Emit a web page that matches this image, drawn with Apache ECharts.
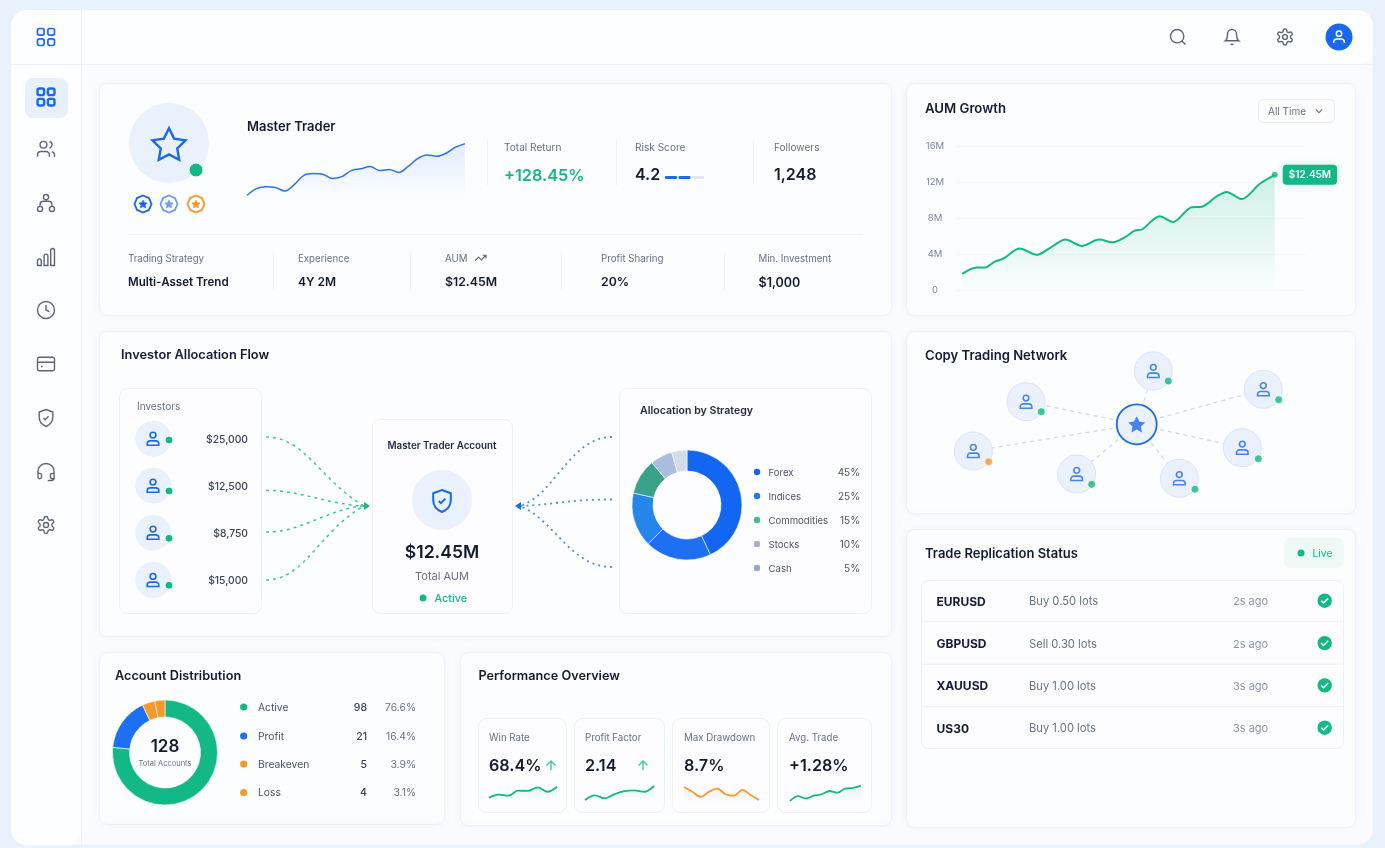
<!DOCTYPE html>
<html>
<head>
<meta charset="utf-8">
<title>Master Trader Dashboard</title>
<style>
  html, body { margin: 0; padding: 0; background: #e9f1fc; }
  #main { width: 1385px; height: 848px; }
</style>
</head>
<body>
<div id="main"></div>
<script src="https://cdn.jsdelivr.net/npm/echarts@6/dist/echarts.min.js"></script>
<script>
// values
var masterSpark = [8, 19, 22, 21, 15, 26, 41, 44, 43, 36, 39, 49, 52, 56, 49, 51, 46, 56, 69, 75, 73, 78, 88, 94];

var aumMonths = [0, 2.3, 3.6, 5.2, 6.6, 9.2, 11.9, 14.3, 16.5, 19.1, 21.9, 24.1, 26, 27.6, 28.8, 31.6, 33.7, 36.7, 38.3, 40.7, 42.3, 44.7, 47.6, 50];
var aumValues = [1.8, 2.5, 2.5, 3.15, 3.5, 4.6, 3.9, 4.8, 5.6, 4.9, 5.6, 5.3, 5.85, 6.6, 6.75, 8.2, 7.55, 9.2, 9.25, 10.4, 10.9, 10.1, 11.8, 12.8];
var aumLabel = '$12.45M';

var allocSliceNames = ['Forex', 'Indices', 'Other', 'Commodities', 'Stocks', 'Cash'];
var allocSliceValues = [43, 19.5, 16, 10.5, 6.5, 4.5];
var allocNames = ['Forex', 'Indices', 'Commodities', 'Stocks', 'Cash'];
var allocPcts = ['45%', '25%', '15%', '10%', '5%'];

var accountNames = ['Active', 'Profit', 'Breakeven', 'Loss'];
var accountCounts = [98, 21, 5, 4];
var accountPcts = ['76.6%', '16.4%', '3.9%', '3.1%'];

var investorAmounts = ['$25,000', '$12,500', '$8,750', '$15,000'];

var netNodesX = [230.7, 247.3, 357.3, 336.3, 273.3, 170.7, 67.3, 120];
var netNodesY = [93.3, 40, 58.3, 116.7, 147.3, 143, 120, 70.7];
var netStatusX = [262.3, 372.7, 352.3, 289, 185.7, 82.7, 135.3];
var netStatusY = [50, 68.7, 127.7, 158.3, 153.3, 130.7, 80.7];
var netStatus = ['on', 'on', 'on', 'on', 'on', 'warn', 'on'];

var kpiNames = ['Win Rate', 'Profit Factor', 'Max Drawdown', 'Avg. Trade'];
var kpiValues = ['68.4%', '2.14', '8.7%', '+1.28%'];
var kpiSparkWin = [24, 41, 35, 63, 62, 81, 57, 85];
var kpiSparkFactor = [11, 37, 20, 44, 61, 65, 57, 89];
var kpiSparkDrawdown = [83, 57, 28, 57, 74, 43, 35, 67, 39, 11];
var kpiSparkAvg = [6, 33, 20, 35, 43, 61, 52, 74, 78, 91];

var tradeSymbols = ['EURUSD', 'GBPUSD', 'XAUUSD', 'US30'];
var tradeOrders = ['Buy 0.50 lots', 'Sell 0.30 lots', 'Buy 1.00 lots', 'Buy 1.00 lots'];
var tradeTimes = ['2s ago', '2s ago', '3s ago', '3s ago'];

var aumTicks = [0, 4, 8, 12, 16];

// colours
var BLUE = '#1a68f0', GREEN = '#12b886', ORANGE = '#f7982c';
var INK = '#131b34', TEXT = '#4a5469', MUTED = '#667085', SOFT = '#8c95a8';
var LINE = '#edf0f6', PALE = '#e9f1fc';
var FONT = 'Inter, "Noto Sans", sans-serif';

// icon paths, 24x24
var P = {
  grid: 'M5 3h3a2 2 0 0 1 2 2v3a2 2 0 0 1-2 2H5a2 2 0 0 1-2-2V5a2 2 0 0 1 2-2z M16 3h3a2 2 0 0 1 2 2v3a2 2 0 0 1-2 2h-3a2 2 0 0 1-2-2V5a2 2 0 0 1 2-2z M5 14h3a2 2 0 0 1 2 2v3a2 2 0 0 1-2 2H5a2 2 0 0 1-2-2v-3a2 2 0 0 1 2-2z M16 14h3a2 2 0 0 1 2 2v3a2 2 0 0 1-2 2h-3a2 2 0 0 1-2-2v-3a2 2 0 0 1 2-2z',
  users: 'M16 21v-2a4 4 0 0 0-4-4H6a4 4 0 0 0-4 4v2 M9 3a4 4 0 1 0 0 8 4 4 0 0 0 0-8z M22 21v-2a4 4 0 0 0-3-3.87 M16 3.13a4 4 0 0 1 0 7.75',
  network: 'M9 5a3 3 0 1 0 6 0 3 3 0 1 0-6 0z M2 19a3 3 0 1 0 6 0 3 3 0 1 0-6 0z M16 19a3 3 0 1 0 6 0 3 3 0 1 0-6 0z M5 16v-2a4 4 0 0 1 4-4h6a4 4 0 0 1 4 4v2 M12 8v2',
  bars: 'M3 16a2 2 0 0 1 4 0v5H3z M10 11a2 2 0 0 1 4 0v10h-4z M17 5a2 2 0 0 1 4 0v16h-4z',
  clock: 'M12 2a10 10 0 1 0 0 20 10 10 0 0 0 0-20z M12 6v6l4 2',
  card: 'M4 4h16a2 2 0 0 1 2 2v12a2 2 0 0 1-2 2H4a2 2 0 0 1-2-2V6a2 2 0 0 1 2-2z M2 10h20 M6 15h2',
  shield: 'M12 2l8 3v6c0 5-3.5 9-8 11-4.5-2-8-6-8-11V5l8-3z M9 12l2 2 4-4',
  headset: 'M3 14v-2a9 9 0 0 1 18 0v2 M3 14h2a2 2 0 0 1 2 2v2a2 2 0 0 1-2 2H5a2 2 0 0 1-2-2z M21 14h-2a2 2 0 0 0-2 2v2a2 2 0 0 0 2 2h2z M21 18v1a3 3 0 0 1-3 3h-4',
  gear: 'M12.22 2h-.44a2 2 0 0 0-2 2v.18a2 2 0 0 1-1 1.73l-.43.25a2 2 0 0 1-2 0l-.15-.08a2 2 0 0 0-2.73.73l-.22.38a2 2 0 0 0 .73 2.73l.15.1a2 2 0 0 1 1 1.72v.51a2 2 0 0 1-1 1.74l-.15.09a2 2 0 0 0-.73 2.73l.22.38a2 2 0 0 0 2.73.73l.15-.08a2 2 0 0 1 2 0l.43.25a2 2 0 0 1 1 1.73V20a2 2 0 0 0 2 2h.44a2 2 0 0 0 2-2v-.18a2 2 0 0 1 1-1.73l.43-.25a2 2 0 0 1 2 0l.15.08a2 2 0 0 0 2.73-.73l.22-.39a2 2 0 0 0-.73-2.73l-.15-.08a2 2 0 0 1-1-1.74v-.5a2 2 0 0 1 1-1.74l.15-.09a2 2 0 0 0 .73-2.73l-.22-.38a2 2 0 0 0-2.73-.73l-.15.08a2 2 0 0 1-2 0l-.43-.25a2 2 0 0 1-1-1.73V4a2 2 0 0 0-2-2z M15 12a3 3 0 1 1-6 0 3 3 0 0 1 6 0z',
  search: 'M11 3a8 8 0 1 0 0 16 8 8 0 0 0 0-16z M21 21l-4.3-4.3',
  bell: 'M6 8a6 6 0 0 1 12 0c0 7 3 9 3 9H3s3-2 3-9 M10.3 21a1.94 1.94 0 0 0 3.4 0',
  person: 'M12 3a4 4 0 1 0 0 8 4 4 0 0 0 0-8z M4 21v-2a4 4 0 0 1 4-4h8a4 4 0 0 1 4 4v2z',
  personOpen: 'M12 3a4 4 0 1 0 0 8 4 4 0 0 0 0-8z M4 21v-1a5 5 0 0 1 5-5h6a5 5 0 0 1 5 5v1',
  star: 'M12 2l3.09 6.26L22 9.27l-5 4.87 1.18 6.88L12 17.77l-6.18 3.25L7 14.14 2 9.27l6.91-1.01L12 2z',
  trend: 'M22 7l-8.5 8.5-5-5L2 17 M16 7h6v6',
  chevron: 'M6 9l6 6 6-6',
  up: 'M12 19V5 M5 12l7-7 7 7',
  check: 'M6 12l4 4 8-8',
  badge: 'M12 2l7 3 3 7-3 7-7 3-7-3-3-7 3-7z'
};

var gfx = [];
var icons = [];

function box(x, y, w, h, r, fill, stroke, shadow) {
  gfx.push({
    type: 'rect', z: 0,
    shape: { x: x, y: y, width: w, height: h, r: r },
    style: {
      fill: fill, stroke: stroke || null, lineWidth: 1,
      shadowBlur: shadow ? 8 : 0, shadowColor: 'rgba(40,70,130,0.05)'
    }
  });
}
function card(x, y, w, h) { box(x + 0.5, y + 0.5, w, h, 8, '#fcfdff', LINE, true); }
function inner(x, y, w, h, r) { box(x + 0.5, y + 0.5, w, h, r || 8, '#fdfdff', '#edf0f6'); }
function txt(s, x, y, size, color, weight, align) {
  gfx.push({
    type: 'text', z: 3,
    style: {
      text: s, x: x, y: y + 0.8, fill: color, align: align || 'left', verticalAlign: 'middle',
      fontFamily: FONT, fontSize: size, fontWeight: weight || 400
    }
  });
}
function dot(x, y, r, fill, ring) {
  gfx.push({
    type: 'circle', z: 2,
    shape: { cx: x, cy: y, r: r },
    style: { fill: fill, stroke: ring ? '#fff' : null, lineWidth: ring ? 1 : 0 }
  });
}
function rule(x1, y1, x2, y2, color) {
  gfx.push({
    type: 'line', z: 1,
    shape: { x1: x1, y1: y1, x2: x2, y2: y2 },
    style: { stroke: color || '#eef1f7', lineWidth: 1 }
  });
}
function flow(pts, color, dash, width) {
  gfx.push({
    type: 'bezierCurve', z: 1,
    shape: { x1: pts[0], y1: pts[1], cpx1: pts[2], cpy1: pts[3], cpx2: pts[4], cpy2: pts[5], x2: pts[6], y2: pts[7] },
    style: { stroke: color, fill: null, lineWidth: width, lineDash: dash }
  });
}
function tip(points, color) {
  gfx.push({ type: 'polygon', z: 2, shape: { points: points }, style: { fill: color } });
}
function icon(name, x, y, size, color, width, filled) {
  icons.push({ path: P[name], x: x, y: y, size: size, color: color, width: width || 1.5, filled: filled });
}

// page shell
box(11, 10, 1362, 835, 16, '#f9fbfe');
box(11, 10, 70, 835, 16, '#fdfeff');
box(11, 10, 1362, 54, 16, '#fdfeff');
rule(81.5, 10, 81.5, 845, '#eef1f7');
rule(11, 64.5, 1373, 64.5, '#eef1f7');

// sidebar and top bar
icon('grid', 46, 37, 17, BLUE, 1.7);
box(25, 78, 43, 40, 8, '#e8f0fb');
icon('grid', 46, 97, 17, BLUE, 2.4);
var navNames = ['users', 'network', 'bars', 'clock', 'card', 'shield', 'headset', 'gear'];
var navY = [149, 203, 257, 310, 364, 418, 472, 525];
navNames.forEach(function (n, i) { icon(n, 46, navY[i], 17, '#5b6478', 1.4); });
icon('search', 1178, 37, 15, '#5b6478', 1.4);
icon('bell', 1232, 37, 15, '#5b6478', 1.4);
icon('gear', 1285, 37, 16, '#5b6478', 1.4);
dot(1339, 37, 13.5, BLUE);
icon('personOpen', 1339, 37, 12, '#fff', 1.5);

// cards
card(99, 83, 792, 232);
card(906, 83, 449, 232);
card(99, 331, 792, 305);
card(906, 331, 449, 182);
card(906, 529, 449, 298);
card(99, 652, 345, 172);
card(460, 652, 431, 173);

// master trader card
dot(169, 143, 40, PALE);
icon('star', 169, 144, 33, BLUE, 2.4);
dot(196, 170, 7, GREEN, true);
var badgeX = [143, 169, 196], badgeC = [BLUE, '#6f9df0', ORANGE];
badgeX.forEach(function (x, i) {
  icon('badge', x, 204, 17, badgeC[i], 1.8);
  icon('star', x, 204, 8, badgeC[i], 0.8, true);
});
txt('Master Trader', 247, 126, 13, INK, 600);

rule(487.5, 140, 487.5, 185);
rule(616.5, 140, 616.5, 185);
rule(753.5, 140, 753.5, 185);
txt('Total Return', 504, 147, 10.1, MUTED);
txt('+128.45%', 504, 175, 16.3, GREEN, 600);
txt('Risk Score', 635, 147, 10.1, MUTED);
txt('4.2', 635, 174, 16, INK, 600);
box(665, 176, 12, 3, 1, BLUE);
box(678.5, 176, 12, 3, 1, BLUE);
box(692, 176, 12, 3, 1, '#e1e7f0');
txt('Followers', 774, 147, 10.1, MUTED);
txt('1,248', 774, 174, 16, INK, 600);

rule(128, 234.5, 863, 234.5);
var factLabels = ['Trading Strategy', 'Experience', 'AUM', 'Profit Sharing', 'Min. Investment'];
var factValues = ['Multi-Asset Trend', '4Y 2M', '$12.45M', '20%', '$1,000'];
var factSizes = [11.6, 12, 12.3, 12.3, 12.5];
var factX = [128, 298, 445, 601, 758.5];
factLabels.forEach(function (s, i) {
  txt(s, factX[i], 258, 9.7, MUTED);
  txt(factValues[i], factX[i], 282, factSizes[i], INK, 600);
});
icon('trend', 480.5, 258, 11, '#5b6478', 1.1);
[273.5, 410.5, 561.5, 724.5].forEach(function (x) { rule(x, 253, x, 290); });

// AUM growth header
txt('AUM Growth', 925, 108, 13.2, INK, 600);
box(1258.5, 99.5, 76, 23, 5, '#fdfdff', '#e9edf4');
txt('All Time', 1268, 111, 10, MUTED);
icon('chevron', 1319, 111, 6.5, MUTED, 1.1);

// investor flow
txt('Investor Allocation Flow', 121, 354, 12.8, INK, 600);
inner(119, 388, 142, 225);
txt('Investors', 137, 406, 10, MUTED);
var rowY = [438.7, 485.7, 532.7, 580];
var rowDotY = [440, 491, 538.3, 585.3];
investorAmounts.forEach(function (s, i) {
  dot(153.3, rowY[i], 18, PALE);
  icon('person', 153, rowY[i], 13, BLUE, 1.6);
  dot(169, rowDotY[i], 4, GREEN, true);
  txt(s, 248, rowY[i], 10.3, '#374157', 500, 'right');
});
var greenDash = [3, 4], blueDash = [2, 4];
flow([266, 437, 305, 437, 320, 480, 364, 506], '#3cc79b', greenDash, 1.5);
flow([266, 490.5, 300, 490, 330, 505, 364, 506], '#3cc79b', greenDash, 1.5);
flow([266, 532, 300, 533, 330, 508, 364, 506], '#3cc79b', greenDash, 1.5);
flow([266, 580, 305, 580, 320, 530, 364, 506], '#3cc79b', greenDash, 1.5);
tip([[364, 502], [370, 506], [364, 510]], GREEN);
flow([612, 437, 570, 437, 555, 495, 520, 506], '#4a8cf0', blueDash, 1.8);
flow([612, 499.5, 575, 499, 550, 505, 520, 506], '#4a8cf0', blueDash, 1.8);
flow([612, 567, 570, 567, 555, 520, 520, 506], '#4a8cf0', blueDash, 1.8);
tip([[521, 502], [515, 506], [521, 510]], BLUE);

inner(372, 419, 140, 194);
txt('Master Trader Account', 442, 445, 9.8, '#1e2740', 600, 'center');
dot(442, 500, 30, PALE);
icon('shield', 442, 501, 22, BLUE, 2);
txt('$12.45M', 442, 552, 17.6, INK, 600, 'center');
txt('Total AUM', 442, 576, 11, MUTED, 400, 'center');
dot(423, 598, 3.5, GREEN);
txt('Active', 434.5, 598, 10.8, GREEN, 500);

inner(619, 388, 252, 225);
txt('Allocation by Strategy', 640, 410, 10.6, '#1e2740', 600);
var allocDots = ['#1266f1', '#2379f0', '#45b8a0', '#a3b1cc', '#98a7c2'];
var allocY = [472, 496, 520, 544, 568];
allocNames.forEach(function (s, i) {
  dot(757, allocY[i], 3.2, allocDots[i]);
  txt(s, 768.5, allocY[i], 9.6, TEXT);
  txt(allocPcts[i], 860, allocY[i], 10, TEXT, 400, 'right');
});

// network, replication, distribution, performance headers
txt('Copy Trading Network', 925, 355, 13.1, INK, 600);

txt('Trade Replication Status', 925, 553, 13, INK, 600);
box(1284, 538, 60, 30, 7, '#eef8f5');
dot(1301, 553, 3.5, GREEN);
txt('Live', 1312.5, 553, 10.3, GREEN, 400);
inner(921, 580, 422, 168, 7);
[621.7, 664.3, 706.7].forEach(function (y) { rule(921, y, 1343, y); });
var tradeY = [601.3, 643.7, 686, 728.3];
tradeSymbols.forEach(function (s, i) {
  txt(s, 936.5, tradeY[i], 12, INK, 700);
  txt(tradeOrders[i], 1029, tradeY[i], 11.2, MUTED);
  txt(tradeTimes[i], 1233, tradeY[i], 11, SOFT);
  dot(1324.7, tradeY[i] - 0.6, 7.2, GREEN);
  icon('check', 1324.7, tradeY[i] - 0.6, 7, '#fff', 1.5);
});

txt('Account Distribution', 115, 675, 12.7, INK, 600);
txt('128', 165, 746, 17, INK, 600, 'center');
txt('Total Accounts', 165, 763, 7.5, MUTED, 400, 'center');
var accountColors = [GREEN, '#1f6ff2', ORANGE, ORANGE];
var accountY = [707, 736, 764, 792.5];
accountNames.forEach(function (s, i) {
  dot(243.7, accountY[i], 3.6, accountColors[i]);
  txt(s, 258, accountY[i], 10.3, TEXT);
  txt(String(accountCounts[i]), 367, accountY[i], 10.5, '#374157', 500, 'right');
  txt(accountPcts[i], 416, accountY[i], 10.3, MUTED, 400, 'right');
});

txt('Performance Overview', 478.5, 675, 12.7, INK, 600);
var kpiBox = [[478, 88], [574, 90], [672, 97], [777, 94]];
var kpiTextX = [489, 585, 684, 789];
kpiNames.forEach(function (s, i) {
  inner(kpiBox[i][0], 718, kpiBox[i][1], 94);
  txt(s, kpiTextX[i], 737, 9.7, MUTED);
  txt(kpiValues[i], kpiTextX[i], 765, 16.2, INK, 600);
});
icon('up', 551, 765.5, 9, '#3cc79b', 1.4);
icon('up', 643, 765.5, 9, '#3cc79b', 1.4);

// helpers for the small line charts
function indexes(arr) { return arr.map(function (v, i) { return i; }); }
function fade(hex, a, b) {
  return new echarts.graphic.LinearGradient(0, 0, 0, 1, [
    { offset: 0, color: 'rgba(' + hex + ',' + a + ')' },
    { offset: 1, color: 'rgba(' + hex + ',' + b + ')' }
  ]);
}
function hiddenCat(grid, arr) {
  return { type: 'category', gridIndex: grid, show: false, boundaryGap: false, data: indexes(arr) };
}
function hiddenVal(grid) {
  return { type: 'value', gridIndex: grid, show: false, min: 0, max: 100 };
}
function spark(grid, arr, color, rgb, a, b, width) {
  return {
    type: 'line', xAxisIndex: grid, yAxisIndex: grid, data: arr, smooth: 0.35,
    showSymbol: false, silent: true,
    lineStyle: { color: color, width: width || 1.8 },
    areaStyle: { color: fade(rgb, a, b) }
  };
}

var kpiSparks = [kpiSparkWin, kpiSparkFactor, kpiSparkDrawdown, kpiSparkAvg];
var kpiGrid = [[489, 68], [585, 69], [684, 75], [790, 71]];

var grids = [
  { left: 247, top: 140, width: 218, height: 60 },
  { left: 956, top: 146, width: 350, height: 144 },
  { left: 906, top: 331, width: 449, height: 182 }
];
kpiGrid.forEach(function (g) { grids.push({ left: g[0], top: 784, width: g[1], height: 18 }); });

var xAxes = [
  hiddenCat(0, masterSpark),
  { type: 'value', gridIndex: 1, show: false, min: -1, max: 55 },
  { type: 'value', gridIndex: 2, show: false, min: 0, max: 449 }
];
var yAxes = [
  hiddenVal(0),
  {
    type: 'value', gridIndex: 1, min: aumTicks[0], max: aumTicks[aumTicks.length - 1], interval: 4,
    axisLine: { show: false }, axisTick: { show: false },
    splitLine: { lineStyle: { color: '#f4f6fa' } },
    axisLabel: {
      color: '#7a8399', fontSize: 9.5, fontFamily: FONT, align: 'center', margin: 21,
      formatter: function (v) { return v === 0 ? '0' : v + 'M'; }
    }
  },
  { type: 'value', gridIndex: 2, show: false, inverse: true, min: 0, max: 182 }
];
kpiSparks.forEach(function (arr, i) {
  xAxes.push(hiddenCat(i + 3, arr));
  yAxes.push(hiddenVal(i + 3));
});

var allocColors = ['#1266f1', '#1f6ff2', '#2486ea', '#3ba28a', '#a9bedf', '#d4dcea'];

var netNodes = netNodesX.map(function (x, i) {
  return {
    value: [x, netNodesY[i]],
    symbolSize: i === 0 ? 40 : 38,
    itemStyle: i === 0
      ? { color: '#eaf1fc', borderColor: BLUE, borderWidth: 1.8 }
      : { color: '#eaf1fc', borderColor: '#d8e5f8', borderWidth: 1 }
  };
});
var netLinks = netNodesX.slice(1).map(function (x, i) { return { source: 0, target: i + 1 }; });

var series = [
  spark(0, masterSpark, '#2a72ee', '29,103,240', 0.16, 0, 1.5),
  {
    type: 'line', xAxisIndex: 1, yAxisIndex: 1, smooth: 0.3, showSymbol: false, silent: true,
    data: aumMonths.map(function (m, i) { return [m, aumValues[i]]; }),
    lineStyle: { color: GREEN, width: 2 },
    areaStyle: { color: fade('18,184,134', 0.28, 0.02) },
    endLabel: {
      show: true, formatter: aumLabel, color: '#fff', fontFamily: FONT, fontSize: 10, fontWeight: 600,
      backgroundColor: GREEN, borderRadius: 4, padding: [5, 6], distance: 8,
      shadowBlur: 6, shadowColor: 'rgba(18,184,134,0.25)'
    }
  },
  {
    type: 'scatter', xAxisIndex: 1, yAxisIndex: 1, silent: true, symbolSize: 6, z: 4,
    data: [[aumMonths[aumMonths.length - 1], aumValues[aumValues.length - 1]]],
    itemStyle: { color: GREEN }
  },
  {
    type: 'graph', coordinateSystem: 'cartesian2d', xAxisIndex: 2, yAxisIndex: 2, silent: true,
    symbol: 'circle', data: netNodes, links: netLinks, label: { show: false },
    lineStyle: { color: '#c9daf6', width: 1.3, type: [4, 4], opacity: 1 }
  },
  {
    type: 'scatter', xAxisIndex: 2, yAxisIndex: 2, silent: true, z: 4,
    symbol: 'path://' + P.person, symbolSize: 13, symbolKeepAspect: true,
    data: netNodesX.slice(1).map(function (x, i) { return [x, netNodesY[i + 1]]; }),
    itemStyle: { color: 'none', borderColor: BLUE, borderWidth: 1.6 }
  },
  {
    type: 'scatter', xAxisIndex: 2, yAxisIndex: 2, silent: true, z: 4,
    symbol: 'path://' + P.star, symbolSize: 17, symbolKeepAspect: true,
    data: [[netNodesX[0], netNodesY[0]]],
    itemStyle: { color: BLUE }
  },
  {
    type: 'scatter', xAxisIndex: 2, yAxisIndex: 2, silent: true, z: 5, symbolSize: 8,
    data: netStatusX.map(function (x, i) {
      return { value: [x, netStatusY[i]], itemStyle: { color: netStatus[i] === 'warn' ? ORANGE : GREEN } };
    }),
    itemStyle: { borderColor: '#fff', borderWidth: 1 }
  },
  {
    type: 'pie', center: [687, 505], radius: [34, 55], startAngle: 90, silent: true,
    label: { show: false }, labelLine: { show: false },
    itemStyle: { borderColor: '#fff', borderWidth: 0.6 },
    data: allocSliceValues.map(function (v, i) {
      return { name: allocSliceNames[i], value: v, itemStyle: { color: allocColors[i] } };
    })
  },
  {
    type: 'pie', center: [165, 752.5], radius: [35.5, 52.5], startAngle: 90, silent: true,
    label: { show: false }, labelLine: { show: false },
    itemStyle: { borderColor: '#fff', borderWidth: 0.6 },
    data: accountCounts.map(function (v, i) {
      return { name: accountNames[i], value: v, itemStyle: { color: accountColors[i] } };
    })
  },
  spark(3, kpiSparkWin, GREEN, '18,184,134', 0.16, 0),
  spark(4, kpiSparkFactor, GREEN, '18,184,134', 0.16, 0),
  spark(5, kpiSparkDrawdown, ORANGE, '120,130,150', 0.16, 0),
  spark(6, kpiSparkAvg, GREEN, '18,184,134', 0.16, 0),
  {
    // all the small line icons
    type: 'custom', coordinateSystem: 'none', silent: true, z: 6,
    data: indexes(icons),
    renderItem: function (params) {
      var d = icons[params.dataIndex];
      return {
        type: 'path',
        shape: {
          pathData: d.path, layout: 'center',
          x: d.x - d.size / 2, y: d.y - d.size / 2, width: d.size, height: d.size
        },
        style: { fill: d.filled ? d.color : 'none', stroke: d.color, lineWidth: d.width }
      };
    }
  }
];

var myChart = echarts.init(document.getElementById('main'));
myChart.setOption({
  animation: false,
  backgroundColor: '#e9f1fc',
  tooltip: { show: false },
  grid: grids,
  xAxis: xAxes,
  yAxis: yAxes,
  series: series,
  graphic: { elements: gfx }
});
</script>
</body>
</html>
